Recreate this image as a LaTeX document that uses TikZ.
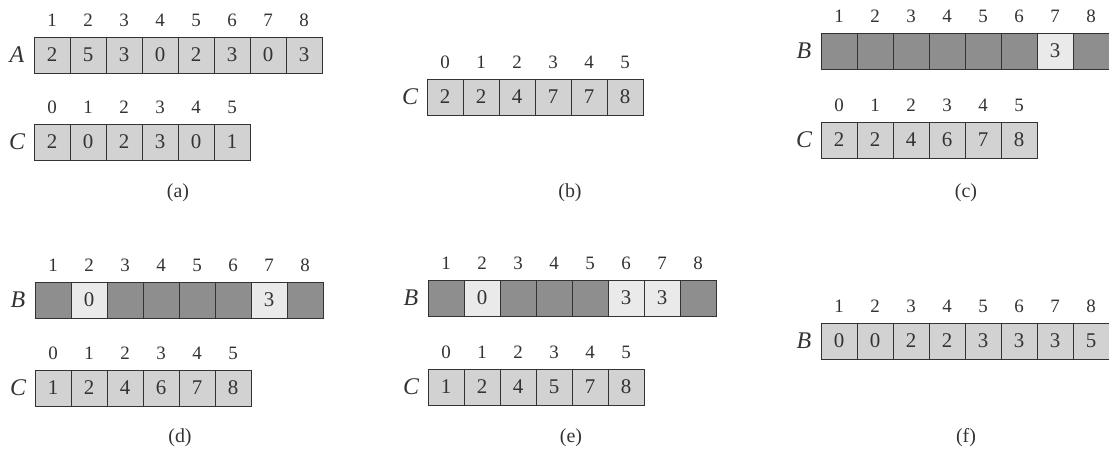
\documentclass[tikz,border=0pt]{standalone}
\usepackage{fontspec}
\setmainfont{Liberation Serif}
\definecolor{lt}{HTML}{D2D2D2}
\definecolor{dk}{HTML}{8E8E8E}
\definecolor{wt}{HTML}{EAEAEA}
\definecolor{ink}{HTML}{333333}
\tikzset{
 cell/.style={draw=ink, line width=0.9bp, minimum width=36bp, minimum height=36bp, inner sep=0pt, outer sep=0pt, anchor=north west, font=\fontsize{21}{21}\selectfont, text=ink},
 lc/.style={cell, fill=lt}, dc/.style={cell, fill=dk}, wc/.style={cell, fill=wt},
 idx/.style={font=\fontsize{19}{19}\selectfont, inner sep=0pt, text=ink},
 arrlabel/.style={font=\fontsize{24}{24}\selectfont\itshape, inner sep=0pt, text=ink},
 captext/.style={font=\fontsize{20}{20}\selectfont, inner sep=0pt, text=ink}
}
\newcommand\drawarr[6]{%
  \node[arrlabel] (#1lbl) at (#3-17, #4+18) {#2};
  \foreach \v/\s [count=\i from 0] in {#6} {
    \node[\s] (#1c\i) at (#3+36*\i, #4) {\v};
    \pgfmathtruncatemacro\ix{\i+#5}
    \node[idx] (#1i\i) at (#3+36*\i+18, #4-17) {\ix};
  }
}
\begin{document}
\begin{tikzpicture}[x=1bp,y=-1bp]
\useasboundingbox[fill=white] (0,0) rectangle (1109,452);
% (a)
\drawarr{aA}{A}{34}{37}{1}{2/lc,5/lc,3/lc,0/lc,2/lc,3/lc,0/lc,3/lc}
\drawarr{aC}{C}{34}{124}{0}{2/lc,0/lc,2/lc,3/lc,0/lc,1/lc}
\node[captext] (capa) at (178,193) {(a)};
% (b)
\drawarr{bC}{C}{427}{79}{0}{2/lc,2/lc,4/lc,7/lc,7/lc,8/lc}
\node[captext] (capb) at (570,193) {(b)};
% (c)
\drawarr{cB}{B}{821}{33}{1}{{}/dc,{}/dc,{}/dc,{}/dc,{}/dc,{}/dc,3/wc,{}/dc}
\drawarr{cC}{C}{821}{122}{0}{2/lc,2/lc,4/lc,6/lc,7/lc,8/lc}
\node[captext] (capc) at (966,193) {(c)};
% (d)
\drawarr{dB}{B}{35}{282}{1}{{}/dc,0/wc,{}/dc,{}/dc,{}/dc,{}/dc,3/wc,{}/dc}
\drawarr{dC}{C}{35}{370}{0}{1/lc,2/lc,4/lc,6/lc,7/lc,8/lc}
\node[captext] (capd) at (180,438) {(d)};
% (e)
\drawarr{eB}{B}{428}{280}{1}{{}/dc,0/wc,{}/dc,{}/dc,{}/dc,3/wc,3/wc,{}/dc}
\drawarr{eC}{C}{428}{369}{0}{1/lc,2/lc,4/lc,5/lc,7/lc,8/lc}
\node[captext] (cape) at (571,438) {(e)};
% (f)
\drawarr{fB}{B}{821}{323}{1}{0/lc,0/lc,2/lc,2/lc,3/lc,3/lc,3/lc,5/lc}
\node[captext] (capf) at (966,438) {(f)};
\end{tikzpicture}
\end{document}
